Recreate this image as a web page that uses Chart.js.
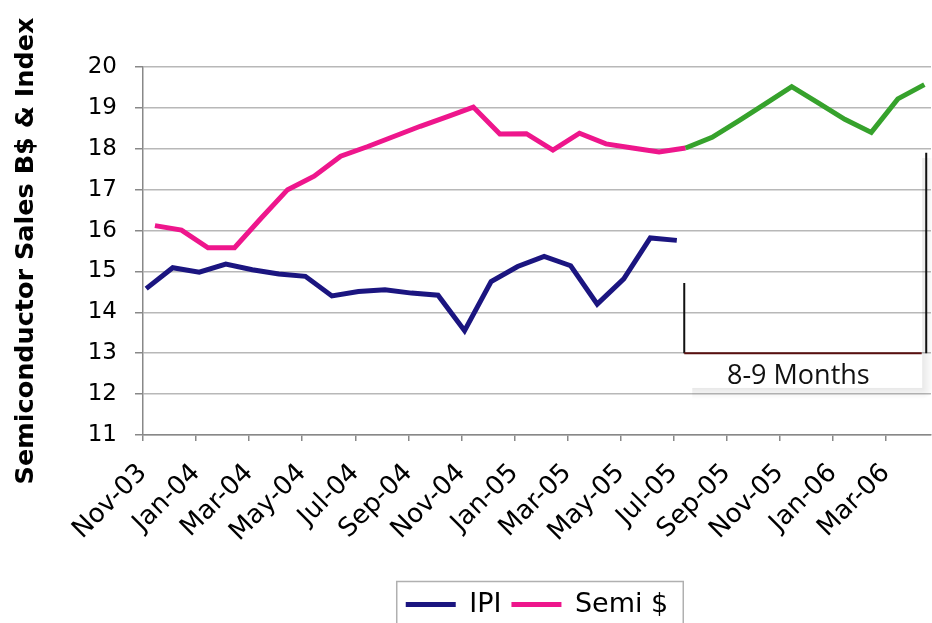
<!DOCTYPE html>
<html><head><meta charset="utf-8">
<script src="https://cdn.jsdelivr.net/npm/chart.js@4.4.1/dist/chart.umd.min.js"></script>
<style>html,body{margin:0;padding:0;background:#fff;overflow:hidden;}#wrap{width:932px;height:628px;}</style>
</head><body><div id="wrap"><canvas id="c" width="932" height="628"></canvas></div>
<script>
const months = ['Nov-03','Dec-03','Jan-04','Feb-04','Mar-04','Apr-04','May-04','Jun-04','Jul-04','Aug-04','Sep-04','Oct-04',
  'Nov-04','Dec-04','Jan-05','Feb-05','Mar-05','Apr-05','May-05','Jun-05','Jul-05','Aug-05','Sep-05','Oct-05',
  'Nov-05','Dec-05','Jan-06','Feb-06','Mar-06','Apr-06'];
const ipiValues = [14.58,15.09,14.98,15.18,15.04,14.94,14.88,14.40,14.51,14.55,14.47,14.42,
  13.55,14.75,15.12,15.37,15.14,14.20,14.82,15.82,15.76];
const semiValues = [16.12,16.01,15.58,15.58,16.30,17.00,17.33,17.82,18.05,18.30,18.55,18.78,
  19.02,18.36,18.37,17.97,18.38,18.12,18.02,17.92,18.02,18.28,18.68,19.10,
  19.52,19.12,18.72,18.40,19.22,19.57];
const forecastStart = 20; // Jul-05: Semi $ line turns green after this month
const xTickIdx = [0,2,4,6,8,10,12,14,16,18,20,22,24,26,28];
const yTicks = [11,12,13,14,15,16,17,18,19,20];
const annotationText = '8-9 Months';

const NAVY = '#1b1580', PINK = '#ee168c', GREEN = '#36a22c';
const FAM = '"DejaVu Sans", Verdana, sans-serif';
const ipiOffset = 0.12, semiOffset = 0.45;

const bracketPlugin = {
  id: 'bracket',
  beforeDatasetsDraw(chart) {
    const {ctx, scales: {x, y}} = chart;
    const l = x.getPixelForValue(20.4), r = x.getPixelForValue(29.37);
    const t = y.getPixelForValue(17.97), b = y.getPixelForValue(12.15);
    const s = 11;
    ctx.save();
    let g = ctx.createLinearGradient(r, 0, r + s, 0);
    g.addColorStop(0, 'rgba(0,0,0,0.09)'); g.addColorStop(1, 'rgba(0,0,0,0)');
    ctx.fillStyle = g;
    ctx.fillRect(r, t + 8, s, b - t - 8);
    g = ctx.createLinearGradient(0, b, 0, b + s);
    g.addColorStop(0, 'rgba(0,0,0,0.09)'); g.addColorStop(1, 'rgba(0,0,0,0)');
    ctx.fillStyle = g;
    ctx.fillRect(l + 8, b, r - l - 8, s);
    g = ctx.createRadialGradient(r, b, 0, r, b, s);
    g.addColorStop(0, 'rgba(0,0,0,0.09)'); g.addColorStop(1, 'rgba(0,0,0,0)');
    ctx.fillStyle = g;
    ctx.fillRect(r, b, s, s);
    ctx.restore();
  },
  afterDatasetsDraw(chart) {
    const {ctx, scales: {x, y}} = chart;
    const xl = x.getPixelForValue(20.4), xr = x.getPixelForValue(29.52), xh = x.getPixelForValue(29.35);
    const yb = y.getPixelForValue(13);
    ctx.save();
    ctx.lineWidth = 2;
    ctx.strokeStyle = '#111';
    ctx.beginPath();
    ctx.moveTo(xl, y.getPixelForValue(14.72)); ctx.lineTo(xl, yb);
    ctx.moveTo(xr, y.getPixelForValue(17.9)); ctx.lineTo(xr, yb);
    ctx.stroke();
    ctx.strokeStyle = '#5a1010';
    ctx.beginPath();
    ctx.moveTo(xl, yb); ctx.lineTo(xh, yb);
    ctx.stroke();
    ctx.fillStyle = '#111';
    ctx.font = '27px "Open Sans", sans-serif';
    ctx.textAlign = 'center';
    ctx.textBaseline = 'middle';
    ctx.fillText(annotationText, x.getPixelForValue(24.7), y.getPixelForValue(12.44));
    ctx.restore();
  }
};

const legendBoxPlugin = {
  id: 'legendBox',
  afterDraw(chart) {
    const lg = chart.legend;
    if (!lg || !lg.legendHitBoxes.length) return;
    const hb = lg.legendHitBoxes;
    const left = hb[0].left - 9, right = hb[hb.length - 1].left + hb[hb.length - 1].width + 15;
    const cy = hb[0].top + hb[0].height / 2;
    const ctx = chart.ctx;
    ctx.save();
    ctx.strokeStyle = '#b0b0b0';
    ctx.lineWidth = 1.5;
    ctx.strokeRect(left, cy - 23, right - left, 46);
    ctx.restore();
  }
};

new Chart(document.getElementById('c'), {
  type: 'line',
  data: {
    datasets: [
      { label: 'IPI', data: ipiValues.map((v, i) => ({x: i + ipiOffset, y: v})),
        borderColor: NAVY, backgroundColor: NAVY, borderWidth: 5, pointRadius: 0, tension: 0 },
      { label: 'Semi $', data: semiValues.map((v, i) => ({x: i + semiOffset, y: v})),
        borderColor: PINK, backgroundColor: PINK, borderWidth: 5, pointRadius: 0, tension: 0,
        segment: { borderColor: c => c.p0DataIndex >= forecastStart ? GREEN : PINK } }
    ]
  },
  options: {
    responsive: false, animation: false,
    layout: { padding: { top: 67, right: 1, left: 0, bottom: 0 } },
    scales: {
      x: {
        type: 'linear', min: 0, max: 29.7,
        afterBuildTicks: s => { s.ticks = xTickIdx.map(v => ({value: v})); },
        afterFit: s => { s.height = 146; },
        ticks: { callback: v => months[v], autoSkip: false, minRotation: 45, maxRotation: 45,
          font: { family: FAM, size: 26 }, color: '#000', padding: 17 },
        grid: { drawOnChartArea: false, tickLength: 6, color: '#888', lineWidth: 1.5 },
        border: { color: '#888', width: 1.5 }
      },
      y: {
        min: 11, max: 20,
        afterBuildTicks: s => { s.ticks = yTicks.map(v => ({value: v})); },
        afterFit: s => { s.width = 143; },
        ticks: { font: { family: FAM, size: 23 }, color: '#000', padding: 18 },
        grid: { color: '#b8b8b8', lineWidth: 1.5, tickLength: 8, tickColor: '#888' },
        border: { color: '#888', width: 1.5 },
        title: { display: true, text: 'Semiconductor Sales B$ & Index', color: '#000',
          font: { family: FAM, size: 25.5, weight: 'bold' }, padding: { top: 11, bottom: 0 } }
      }
    },
    plugins: {
      legend: {
        position: 'bottom', fullSize: false,
        labels: {
          boxWidth: 50, boxHeight: 5, padding: 10, color: '#000',
          font: { family: FAM, size: 27 },
          generateLabels: chart => {
            const items = Chart.defaults.plugins.legend.labels.generateLabels(chart);
            items.forEach(it => { it.lineWidth = 0; it.fillStyle = it.strokeStyle; });
            return items;
          }
        }
      },
      tooltip: { enabled: false }
    }
  },
  plugins: [bracketPlugin, legendBoxPlugin]
});
</script>
</body></html>
